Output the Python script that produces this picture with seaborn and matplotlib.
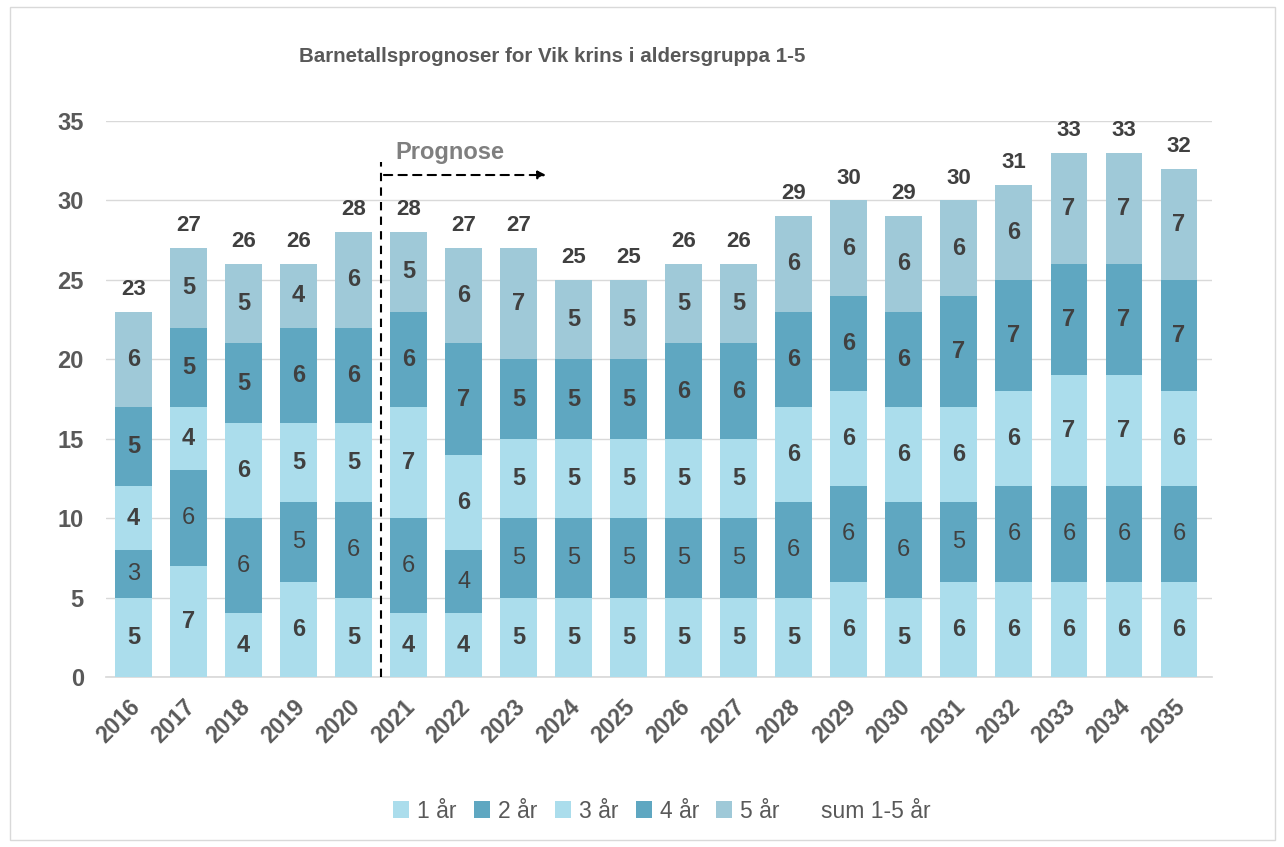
import numpy as np
import pandas as pd
import matplotlib
matplotlib.use("Agg")
import matplotlib.pyplot as plt
import matplotlib.transforms as mtransforms
import seaborn as sns
from matplotlib.patches import Patch, Rectangle
from matplotlib.lines import Line2D

# ---- Data ----
years = [str(y) for y in range(2016, 2036)]
age_1 = [5, 7, 4, 6, 5, 4, 4, 5, 5, 5, 5, 5, 5, 6, 5, 6, 6, 6, 6, 6]
age_2 = [3, 6, 6, 5, 6, 6, 4, 5, 5, 5, 5, 5, 6, 6, 6, 5, 6, 6, 6, 6]
age_3 = [4, 4, 6, 5, 5, 7, 6, 5, 5, 5, 5, 5, 6, 6, 6, 6, 6, 7, 7, 6]
age_4 = [5, 5, 5, 6, 6, 6, 7, 5, 5, 5, 6, 6, 6, 6, 6, 7, 7, 7, 7, 7]
age_5 = [6, 5, 5, 4, 6, 5, 6, 7, 5, 5, 5, 5, 6, 6, 6, 6, 6, 7, 7, 7]
series_names = ["1 år", "2 år", "3 år", "4 år", "5 år"]
sum_name = "sum 1-5 år"
title = "Barnetallsprognoser for Vik krins i aldersgruppa 1-5"
prognose_label = "Prognose"

colors = ["#ABDDEC", "#5FA7C1", "#ABDDEC", "#5FA7C1", "#9FC9D8"]
text_col = "#404040"
grey = "#595959"

sns.set_theme(style="white")
plt.rcParams['font.family'] = ['Liberation Sans', 'DejaVu Sans']

fig = plt.figure(figsize=(12.84, 8.47), dpi=100)
ax = fig.add_axes([106 / 1284, 1 - 677 / 847, (1212 - 106) / 1284, (677 - 121) / 847])

# outer frame like the Excel chart area
fig.patches.append(Rectangle((10 / 1284, 7 / 847), 1265 / 1284, 833 / 847,
                             transform=fig.transFigure, fill=False,
                             edgecolor="#D9D9D9", linewidth=1))

layers = [age_1, age_2, age_3, age_4, age_5]
bottom = np.zeros(len(years))
for name, vals, col in zip(series_names, layers, colors):
    sns.barplot(x=years, y=vals, bottom=bottom, color=col, width=0.67,
                saturation=1, ax=ax, zorder=3, linewidth=0)
    weight = "normal" if name == "2 år" else "bold"
    for i, v in enumerate(vals):
        ax.text(i, bottom[i] + v / 2, str(v), ha="center", va="center",
                fontsize=17, fontweight=weight, color=text_col, zorder=4)
    bottom = bottom + np.array(vals)

totals = bottom
for i, t in enumerate(totals):
    ax.text(i, t + 0.75, str(int(t)), ha="center", va="bottom",
            fontsize=16, fontweight="bold", color=text_col, zorder=4)

ax.set_ylim(0, 35)
ax.set_xlim(-0.5, 19.6)
ax.set_yticks(range(0, 36, 5))
ax.yaxis.grid(True, color="#D9D9D9", linewidth=1, zorder=0)
ax.set_axisbelow(True)
for s in ["top", "right", "left"]:
    ax.spines[s].set_visible(False)
ax.spines["bottom"].set_color("#D9D9D9")
ax.tick_params(axis="both", length=0)
ax.tick_params(axis="y", pad=16)
ax.tick_params(axis="x", pad=13)
for lab in ax.get_yticklabels():
    lab.set_fontsize(17)
    lab.set_fontweight("bold")
    lab.set_color(grey)
ax.set_xticks(range(len(years)))
ax.set_xticklabels(years, rotation=45, ha="right", rotation_mode="anchor",
                   fontsize=16.5, fontweight="bold", color=grey)
shift = mtransforms.ScaledTranslation(-5 / 100, 0, fig.dpi_scale_trans)
for lab in ax.get_xticklabels():
    lab.set_transform(lab.get_transform() + shift)
ax.set_xlabel("")
ax.set_ylabel("")

# Prognose marker
ax.plot([4.5, 4.5], [0, 32.4], linestyle=(0, (4, 3)), color="black",
        linewidth=1.5, zorder=5, clip_on=False)
ax.annotate("", xy=(7.55, 31.6), xytext=(4.5, 31.6),
            arrowprops=dict(arrowstyle="-|>", linestyle=(0, (4, 3)),
                            color="black", linewidth=1.5, mutation_scale=12))
ax.text(4.75, 32.3, prognose_label, fontsize=17, fontweight="bold",
        color="#7F7F7F", ha="left", va="bottom")

fig.text(552 / 1284, 1 - 57 / 847, title, ha="center", va="center",
         fontsize=14.8, fontweight="bold", color=grey)

handles = [Patch(facecolor=c, edgecolor="none") for c in colors]
handles.append(Line2D([], [], linestyle="none"))
fig.legend(handles, series_names + [sum_name], loc="center",
           bbox_to_anchor=(662 / 1284, 1 - 811 / 847), ncol=6, frameon=False,
           fontsize=16.5, handlelength=0.7, handleheight=0.7,
           handletextpad=0.35, columnspacing=0.75, labelcolor=grey)

fig.savefig("out.png", dpi=100)
